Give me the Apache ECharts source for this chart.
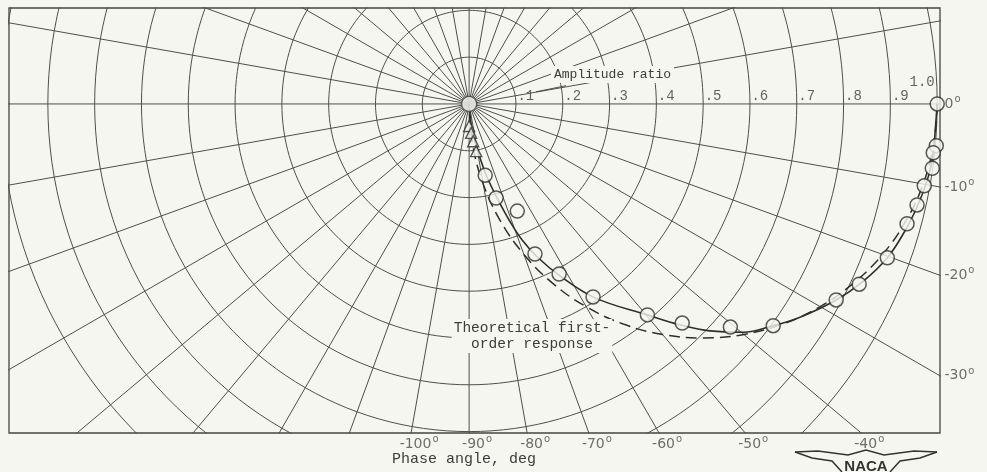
<!DOCTYPE html>
<html>
<head>
<meta charset="utf-8">
<script src="https://cdn.jsdelivr.net/npm/echarts@6/dist/echarts.min.js"></script>
<style>
html,body{margin:0;padding:0;background:#f6f6f1;}
#chart{width:987px;height:472px;}
</style>
</head>
<body>
<div id="chart"></div>
<script>
// polar grid: amplitude ratio circles and phase angle rays
var ringRadii = [0.1, 0.2, 0.3, 0.4, 0.5, 0.6, 0.7, 0.8, 0.9, 1.0];
var ringLabels = ['.1', '.2', '.3', '.4', '.5', '.6', '.7', '.8', '.9', '1.0'];
var rayAngles = [0, 10, 20, 30, 40, 50, 60, 70, 80, 90, 100, 110, 120, 130, 140, 150, 160, 170,
	180, 190, 200, 210, 220, 230, 240, 250, 260, 270, 280, 290, 300, 310, 320, 330, 340, 350];
var rightPhaseTicks = [0, -10, -20, -30];
var bottomPhaseTicks = [-40, -50, -60, -70, -80, -90, -100];

// measured points (open circles)
var circAmp = [1.000, 1.002, 0.997, 0.999, 0.988, 0.981, 0.970, 0.952, 0.918, 0.889,
	0.804, 0.734, 0.653, 0.590, 0.490, 0.411, 0.350, 0.251, 0.209, 0.156];
var circPhase = [0, -5.1, -6.0, -7.9, -10.2, -12.7, -15.3, -20.2, -24.8, -28.1,
	-36.1, -40.5, -45.8, -49.8, -57.3, -62.1, -66.3, -65.8, -74.0, -77.3];
// measured points (triangles)
var triAmp = [0.047, 0.062, 0.080, 0.102];
var triPhase = [-90, -86, -83.8, -81.5];

// faired curve through test points (solid)
var fairAmp = [0, 0.056, 0.104, 0.156, 0.210, 0.267, 0.312, 0.358, 0.416, 0.494, 0.590, 0.653,
	0.707, 0.762, 0.804, 0.841, 0.889, 0.922, 0.952, 0.972, 0.985, 0.995, 0.997, 0.998, 1.000];
var fairPhase = [-90, -83.4, -79.4, -76.5, -73.4, -70.8, -68.7, -66.0, -62.1, -57.0, -49.8, -46.3,
	-43.3, -39.8, -36.1, -32.8, -28.1, -24.4, -20.2, -15.7, -12.0, -8.1, -5.0, -2.0, 0];

// theoretical first-order response (dashed)
var theoPhase = [0, -5, -10, -15, -20, -25, -30, -35, -40, -45, -50, -55, -60, -65, -70, -75, -80, -85, -90];
var theoAmp = [1.000, 0.996, 0.985, 0.966, 0.940, 0.906, 0.866, 0.819, 0.766, 0.707,
	0.643, 0.574, 0.500, 0.423, 0.342, 0.259, 0.174, 0.087, 0.000];

var X_MIN = -0.983, X_MAX = 1.006, Y_MIN = -0.703, Y_MAX = 0.205;
var BG = '#f6f6f1';
var GRID = '#4e4e4e';
var INK = '#2e2e2e';

function xy(a, p){
	var r = p * Math.PI / 180;
	return [a * Math.cos(r), a * Math.sin(r)];
}
function pairs(amps, phases){
	var out = [];
	for(var i = 0; i < amps.length; i++){
		out.push(xy(amps[i], phases[i]));
	}
	return out;
}
function each(arr, fn){ for(var i = 0; i < arr.length; i++){ fn(arr[i], i); } }

var series = [];
// circles
each(ringRadii, function(r){
	var pts = [];
	for(var d = 0; d <= 360; d += 2){ pts.push(xy(r, d)); }
	series.push({type: 'line', data: pts, showSymbol: false, silent: true, z: 1,
		lineStyle: {color: GRID, width: 1}});
});
// rays
each(rayAngles, function(d){
	series.push({type: 'line', data: [[0, 0], xy(1.6, d)], showSymbol: false, silent: true, z: 1,
		lineStyle: {color: GRID, width: 1}});
});
// leader from .1 to "Amplitude ratio"
series.push({type: 'line', data: [[0.143, 0.026], [0.207, 0.039]], showSymbol: false, silent: true, z: 1,
	lineStyle: {color: GRID, width: 1}});

// ring labels
series.push({type: 'scatter', symbolSize: 1, itemStyle: {color: 'transparent'}, silent: true, clip: false, z: 6,
	data: ringRadii.map(function(r, i){
		var item = {value: [r, 0], name: ringLabels[i]};
		if(ringLabels[i] == '1.0'){
			item.label = {position: 'left', distance: 2, offset: [0, -22]};
		}
		return item;
	}),
	label: {show: true, position: 'right', distance: 1, offset: [0, -8], formatter: '{b}',
		fontFamily: 'Liberation Mono', fontSize: 14, color: '#3c3c3c'}
});

var angleRich = {
	a: {fontFamily: 'DejaVu Sans', fontSize: 14, color: '#4a4a4a'},
	b: {fontFamily: 'DejaVu Sans', fontSize: 10, color: '#4a4a4a', padding: [0, 0, 9, 1]}
};
function angleFmt(p){ return '{a|' + p.value[2] + '}{b|o}'; }

series.push({type: 'scatter', symbolSize: 1, itemStyle: {color: 'transparent'}, silent: true, clip: false, z: 6,
	data: rightPhaseTicks.map(function(d){
		return [X_MAX, X_MAX * Math.tan(d * Math.PI / 180), d];
	}),
	label: {show: true, position: 'right', distance: 4, formatter: angleFmt, rich: angleRich}
});
series.push({type: 'scatter', symbolSize: 1, itemStyle: {color: 'transparent'}, silent: true, clip: false, z: 6,
	data: bottomPhaseTicks.map(function(d){
		var r = d * Math.PI / 180;
		return [Y_MIN * Math.cos(r) / Math.sin(r), Y_MIN, d];
	}),
	label: {show: true, position: 'bottom', distance: 1, offset: [8, 0], formatter: angleFmt, rich: angleRich}
});

// curves
series.push({type: 'line', data: pairs(theoAmp, theoPhase), smooth: 0.4, showSymbol: false, z: 8,
	lineStyle: {color: INK, width: 1.5, type: [11, 6]}});
series.push({type: 'line', data: pairs(fairAmp, fairPhase), smooth: 0.4, showSymbol: false, z: 9,
	lineStyle: {color: INK, width: 1.6}});

// points
series.push({type: 'scatter', data: pairs(circAmp, circPhase), symbol: 'circle', symbolSize: 14, z: 10,
	itemStyle: {color: BG, borderColor: INK, borderWidth: 1.5}});
series.push({type: 'scatter', data: pairs(triAmp, triPhase), symbol: 'triangle', symbolSize: 11, z: 10,
	itemStyle: {color: BG, borderColor: INK, borderWidth: 1.4}});
// origin
series.push({type: 'scatter', data: [[0, 0]], symbol: 'circle', symbolSize: 15, z: 11,
	itemStyle: {color: '#fbfbf8', borderColor: '#444', borderWidth: 1.3}});

var chart = echarts.init(document.getElementById('chart'));
chart.setOption({
	backgroundColor: BG,
	animation: false,
	grid: {left: 9, top: 8, width: 931, height: 425, show: true, borderColor: '#444', borderWidth: 1.3,
		backgroundColor: 'transparent'},
	xAxis: {type: 'value', min: X_MIN, max: X_MAX, show: false},
	yAxis: {type: 'value', min: Y_MIN, max: Y_MAX, show: false},
	series: series,
	graphic: [
		{type: 'text', left: 551, top: 66, z: 100,
			style: {text: 'Amplitude ratio', font: '13px "Liberation Mono"', fill: '#3c3c3c',
				backgroundColor: BG, padding: [2, 3]}},
		{type: 'text', x: 532, y: 319, z: 100,
			style: {text: 'Theoretical first-\norder response', font: '14.5px "Liberation Mono"', fill: '#3c3c3c',
				align: 'center', lineHeight: 16, backgroundColor: BG, padding: [1, 2]}},
		{type: 'text', left: 392, top: 452, z: 100,
			style: {text: 'Phase angle, deg', font: '15px "Liberation Mono"', fill: '#3c3c3c'}},
		{type: 'polyline', z: 100, shape: {points: [[795, 452], [818, 451], [848, 455], [866, 450], [884, 455], [914, 451], [937, 452]]},
			style: {stroke: '#333', fill: null, lineWidth: 1.5}},
		{type: 'polyline', z: 100, shape: {points: [[795, 452], [812, 458], [832, 461], [842, 472]]},
			style: {stroke: '#333', fill: null, lineWidth: 1.5}},
		{type: 'polyline', z: 100, shape: {points: [[937, 452], [920, 458], [900, 461], [890, 472]]},
			style: {stroke: '#333', fill: null, lineWidth: 1.5}},
		{type: 'text', x: 866, y: 459, z: 100,
			style: {text: 'NACA', font: 'bold 15px "Liberation Sans"', fill: '#333', align: 'center'}}
	]
});
</script>
</body>
</html>
